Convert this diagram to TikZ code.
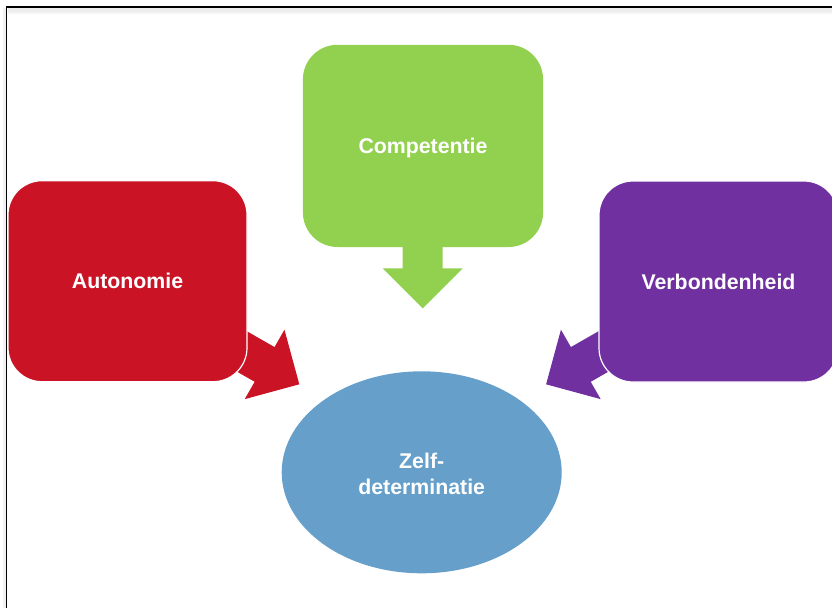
\documentclass[tikz,border=0pt]{standalone}
\usepackage{fontspec}
\setmainfont{Liberation Sans}
\usetikzlibrary{calc,shapes.geometric}
\definecolor{cRed}{RGB}{202,20,38}
\definecolor{cGreen}{RGB}{146,208,80}
\definecolor{cPurple}{RGB}{112,48,160}
\definecolor{cBlue}{RGB}{102,159,202}
\newcommand{\myblockarrow}[3]{%
  \coordinate (hb) at ($(#3)!40pt!(#2)$);
  \fill[#1] ($(#2)!20pt!90:(#3)$) -- ($(hb)!20pt!90:(#3)$) -- ($(hb)!40pt!90:(#3)$) -- (#3)
    -- ($(hb)!40pt!-90:(#3)$) -- ($(hb)!20pt!-90:(#3)$) -- ($(#2)!20pt!-90:(#3)$) -- cycle;}
\begin{document}
\begin{tikzpicture}[x=1pt,y=-1pt,
  lbl/.style={text=white,font=\fontsize{21.3}{25.6}\selectfont\bfseries},
  boxnode/.style={lbl,rectangle,rounded corners=34pt,minimum width=239pt,minimum height=201pt,
    inner sep=0pt,draw=white,line width=1.2pt,text height=15.3pt,text depth=0pt},
  ovalnode/.style={ellipse,minimum width=280pt,minimum height=202pt,inner sep=0pt}]
\useasboundingbox (0,0) rectangle (832,608);
% frame
\fill[black!7] (8,8) rectangle (832,12);
\fill[black!4] (8,12) rectangle (832,14);
\fill[black!5] (3,8) rectangle (5.5,608);
\draw[line width=1.5pt] (6.5,608) -- (6.5,7) -- (832,7);
% arrow anchor points
\coordinate (rs) at (212.5,334.6);
\coordinate (rt) at (299.3,384.3);
\coordinate (gs) at (422.7,200);
\coordinate (gt) at (422.7,308.3);
\coordinate (ps) at (632.9,334.6);
\coordinate (pt) at (546.1,384.3);
\myblockarrow{cRed}{rs}{rt}
\myblockarrow{cGreen}{gs}{gt}
\myblockarrow{cPurple}{ps}{pt}
% boxes
\node[boxnode,fill=cRed] (auto) at (127.5,281.2) {Autonomie};
\node[boxnode,fill=cGreen,draw=cGreen] (comp) at (423,145.9) {Competentie};
\node[boxnode,fill=cPurple] (verb) at (718.5,281.5) {Verbondenheid};
% ellipse
\node[ovalnode,fill=cBlue] (zelf) at (421.7,472.3) {};
\node[lbl,anchor=base] (zelf1) at (421.7,468.3) {Zelf-};
\node[lbl,anchor=base] (zelf2) at (421.7,494) {determinatie};
\end{tikzpicture}
\end{document}
